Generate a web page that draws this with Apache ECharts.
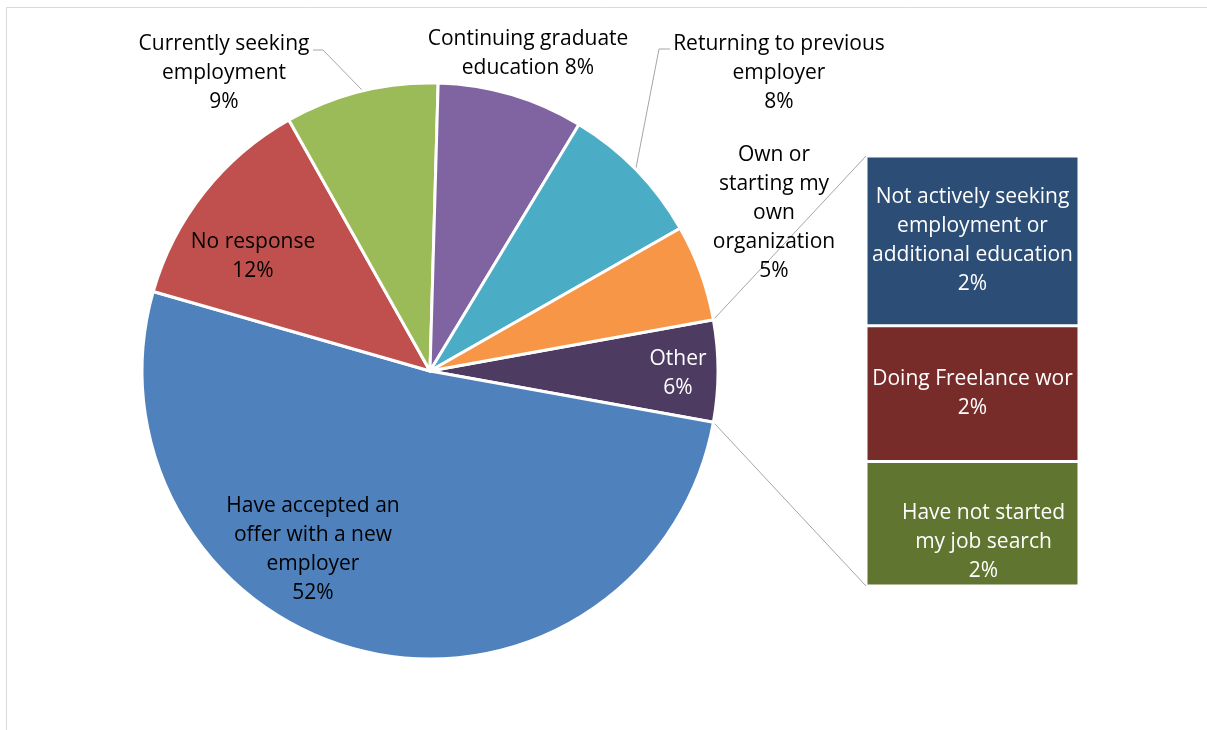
<!DOCTYPE html>
<html>
<head>
<meta charset="utf-8">
<script src="https://cdn.jsdelivr.net/npm/echarts@6/dist/echarts.min.js"></script>
<style>
html,body{margin:0;padding:0;background:#fff;}
#chart{width:1207px;height:730px;}
</style>
</head>
<body>
<div id="chart"></div>
<script>
// ---- data ----
const pieCategories = [
  'Have accepted an\noffer with a new\nemployer',
  'No response',
  'Currently seeking\nemployment',
  'Continuing graduate\neducation',
  'Returning to previous\nemployer',
  'Own or\nstarting my\nown\norganization'
];
const pieValues = [51.6, 12.4, 8.6, 8.2, 8.1, 5.4];
const otherName = 'Other';
const barCategories = [
  'Not actively seeking\nemployment or\nadditional education',
  'Doing Freelance work',
  'Have not started\nmy job search'
];
const barValues = [2.25, 1.8, 1.65];

// ---- styles / layout ----
const FONT = 'Open Sans';
const FSIZE = 21;
const pieColors = ['#4F81BD', '#C0504D', '#9BBB59', '#8064A2', '#4BACC6', '#F79646'];
const otherColor = '#4D3B62';
const barColors = ['#2C4D75', '#772C2A', '#5F7530'];
const pieCenter = [430, 371];
const pieRadius = 288;
const labelPos = { // index in pie series data (0 = Other)
  0: [678, 374], 1: [313, 550], 2: [253, 257], 3: [224, 73],
  4: [528, 54], 5: [779, 73], 6: [774, 213]
};
const leaderPts = {
  3: [[313, 50], [323, 50], [362, 90]],
  5: [[670, 49], [659, 49], [636, 168]]
};
const labelSep = ['\n', '\n', '\n', ' ', '\n', '\n'];

const otherValue = barValues.reduce((a, b) => a + b, 0);
const total = pieValues.reduce((a, b) => a + b, 0) + otherValue;
const pct = v => Math.round(v * 100 / total + 1e-9) + '%';
const barPct = v => Math.round(v * 100 / total + 1e-9) + '%';

const pieData = [{
  name: otherName, value: otherValue,
  itemStyle: { color: otherColor },
  label: { color: '#fff', formatter: otherName + '\n' + pct(otherValue) }
}];
pieCategories.forEach((c, i) => {
  const outside = leaderPts[i + 1] !== undefined;
  pieData.push({
    name: c.replace(/\n/g, ' '), value: pieValues[i],
    itemStyle: { color: pieColors[i] },
    label: { formatter: c + labelSep[i] + pct(pieValues[i]), position: outside ? 'outside' : 'inside' },
    labelLine: { show: outside, lineStyle: { color: '#A6A6A6', width: 1 } }
  });
});

const startAngle = otherValue / total * 360 / 2;

// bar series: bottom to top
const barSeries = [];
for (let i = barCategories.length - 1; i >= 0; i--) {
  const isLast = i === barCategories.length - 1;
  barSeries.push({
    type: 'bar', stack: 'other', name: barCategories[i].replace(/\n/g, ' '),
    data: [barValues[i]], barWidth: '100%',
    itemStyle: { color: barColors[i], borderColor: '#fff', borderWidth: 1.5 },
    label: {
      show: true, position: 'inside', color: '#fff', fontFamily: FONT, fontSize: FSIZE, lineHeight: 29,
      formatter: barCategories[i] + '\n' + barPct(barValues[i]),
      width: 204, overflow: 'truncate', ellipsis: '',
      offset: isLast ? [11, 18] : [0, 0]
    }
  });
}

const chart = echarts.init(document.getElementById('chart'));
const option = {
  animation: false,
  backgroundColor: '#fff',
  grid: { left: 866, top: 156, width: 213, height: 430 },
  xAxis: { type: 'category', data: ['Other'], show: false },
  yAxis: { type: 'value', min: 0, max: otherValue, show: false },
  series: [{
    type: 'pie',
    center: pieCenter, radius: pieRadius,
    startAngle: startAngle, clockwise: true,
    avoidLabelOverlap: false,
    itemStyle: { borderColor: '#fff', borderWidth: 3 },
    label: { show: true, color: '#000', fontFamily: FONT, fontSize: FSIZE, lineHeight: 29, align: 'center' },
    labelLine: { show: false },
    labelLayout: function (params) {
      const p = labelPos[params.dataIndex];
      const res = { x: p[0], y: p[1], align: 'center', verticalAlign: 'middle' };
      if (leaderPts[params.dataIndex]) res.labelLinePoints = leaderPts[params.dataIndex];
      return res;
    },
    emphasis: { disabled: true },
    data: pieData
  }].concat(barSeries)
};
chart.setOption(option);

// connector lines from the Other slice edges to the bar's corners
const halfRad = startAngle * Math.PI / 180;
const topCorner = [pieCenter[0] + pieRadius * Math.cos(halfRad), pieCenter[1] - pieRadius * Math.sin(halfRad)];
const botCorner = [pieCenter[0] + pieRadius * Math.cos(halfRad), pieCenter[1] + pieRadius * Math.sin(halfRad)];
const barTop = chart.convertToPixel({ gridIndex: 0 }, [0, otherValue]);
const barBot = chart.convertToPixel({ gridIndex: 0 }, [0, 0]);
const barLeft = 866;
chart.setOption({
  graphic: [
    { type: 'rect', shape: { x: 6.5, y: 7.5, width: 1300, height: 800 }, style: { fill: 'none', stroke: '#D9D9D9', lineWidth: 1 }, silent: true, z: -1 },
    { type: 'line', shape: { x1: topCorner[0], y1: topCorner[1], x2: barLeft, y2: barTop[1] }, style: { stroke: '#A6A6A6', lineWidth: 1 }, silent: true },
    { type: 'line', shape: { x1: botCorner[0], y1: botCorner[1], x2: barLeft, y2: barBot[1] }, style: { stroke: '#A6A6A6', lineWidth: 1 }, silent: true }
  ]
});
</script>
</body>
</html>
